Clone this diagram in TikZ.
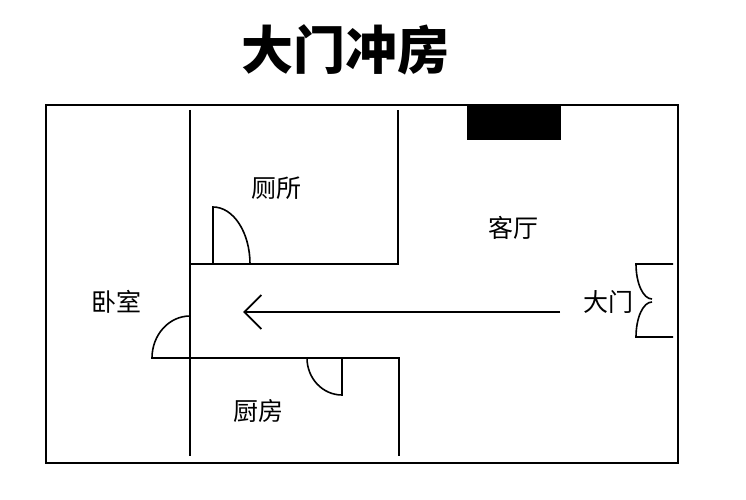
\documentclass[tikz,border=0pt]{standalone}
\usepackage{fontspec}
\newfontfamily\cjk{Noto Sans CJK SC}
\usetikzlibrary{arrows.meta}
\tikzset{
  room/.style={font=\cjk\fontsize{25}{25}\selectfont,inner sep=0pt},
  wall/.style={line width=2pt},
  leaf/.style={line width=1.6pt}
}
\begin{document}
\begin{tikzpicture}[x=1pt,y=1pt]
\useasboundingbox (0,0) rectangle (746,500);
\newcommand{\Leaf}[4]{
\draw[leaf](#1)--++(#2)arc[start angle=#3,end angle=#4,x radius=16,y radius=35];}
% title
\node[font=\cjk\bfseries\fontsize{52}{52}\selectfont,inner sep=0pt](title)at(345,450){大门冲房};
% outer walls and sofa wall
\draw[line width=1.6pt](46,395)rectangle(678,37);
\fill(467,395)rectangle(561,360);
% inner walls
\draw[wall](190,390)--(190,44);
\draw[wall](190,236)--(398,236)--(398,390);
\draw[wall](190,142)--(399,142)--(399,44);
% doors
\draw[leaf](213,236)--(213,293)arc[start angle=90,end angle=0,x radius=37,y radius=57];
\draw[leaf](190,184)arc[start angle=90,end angle=180,x radius=38,y radius=42]--(190,142);
\draw[leaf](342,142)--(342,105)arc[start angle=270,end angle=180,x radius=35,y radius=37];
\Leaf{673,236}{-37,0}{180}{270}
\Leaf{673,163}{-37,0}{180}{90}
% rooms
\node[room](wc)at(276,312){厕所};
\node[room](living)at(513,272){客厅};
\node[room](bed)at(116,198){卧室};
\node[room](gate)at(608,198){大门};
\node[room](kitchen)at(258,89){厨房};
% the rush through the flat
\coordinate(start)at(560,188);
\coordinate(tip)at(243,188);
\draw[-{Straight Barb[length=17pt,width=34pt]},line width=1.8pt](start)--(tip);
\end{tikzpicture}
\end{document}
